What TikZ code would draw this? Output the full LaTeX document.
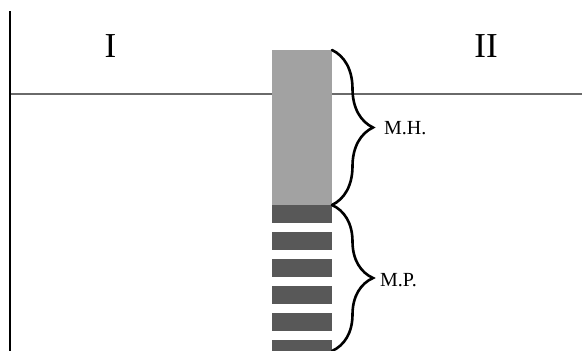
\documentclass[tikz,border=0pt]{standalone}
\usepackage{fontspec}
\setmainfont{Liberation Serif}
\usetikzlibrary{decorations.pathreplacing}
\definecolor{lightbar}{HTML}{A2A2A2}
\definecolor{darkbar}{HTML}{585858}
\definecolor{axisgray}{HTML}{6A6A6A}
\begin{document}
\begin{tikzpicture}[x=1pt,y=-1pt,
  bigroman/.style={font=\fontsize{35}{40}\selectfont, inner sep=0pt},
  smalllab/.style={font=\fontsize{20}{24}\selectfont, inner sep=0pt, anchor=west},
  bracestyle/.style={draw=black, line width=2.6pt, line cap=round, decorate, decoration={brace, amplitude=41pt}},
  stripe/.style={fill=darkbar, draw=none}]
\useasboundingbox (0,0) rectangle (582,351);
\clip (0,0) rectangle (582,351);
% axes
\draw[axisgray, line width=1.6pt] (10,94) -- (582,94);
\draw[black, line width=2.6pt] (10,11) -- (10,351);
% column
\fill[lightbar] (272,50) rectangle (332,205);
\fill[stripe] (272,205) rectangle (332,223);
\foreach \y in {232,259,286,313,340} {
  \fill[stripe] (272,\y) rectangle (332,\y+17.5);
}
% coordinates for braces
\coordinate (mhtop) at (332,50);
\coordinate (mhbot) at (332,205);
\coordinate (mptop) at (332,205);
\coordinate (mpbot) at (332,351);
\draw[bracestyle] (mhtop) -- (mhbot);
\draw[bracestyle] (mptop) -- (mpbot);
% labels
\node[bigroman] (lI) at (110.5,46) {I};
\node[bigroman] (lII) at (486,46) {II};
\node[smalllab] (mh) at (384,128.5) {M.H.};
\node[smalllab] (mp) at (380,280) {M.P.};
\end{tikzpicture}
\end{document}
